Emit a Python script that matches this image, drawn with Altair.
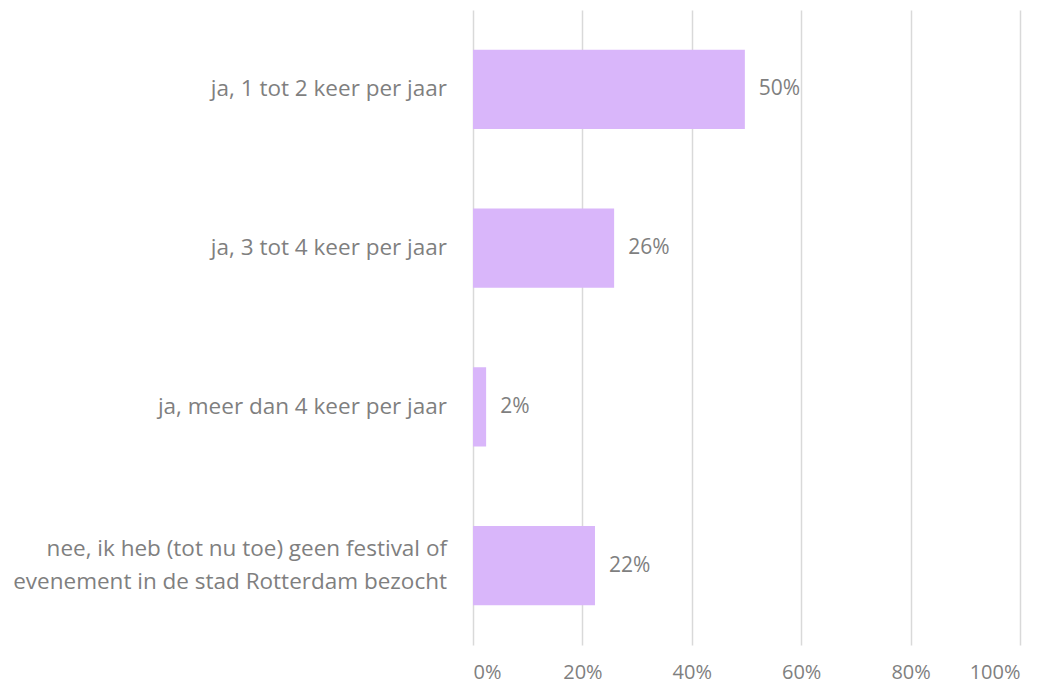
import altair as alt
import pandas as pd

categories = [
    "ja, 1 tot 2 keer per jaar",
    "ja, 3 tot 4 keer per jaar",
    "ja, meer dan 4 keer per jaar",
    "nee, ik heb (tot nu toe) geen festival of|evenement in de stad Rotterdam bezocht",
]
values = [0.497, 0.258, 0.024, 0.223]

df = pd.DataFrame({"cat": categories, "val": values})

FONT = "Open Sans"
GREY = "#7f7f7f"
LINE_H = 33

y = alt.Y("cat:N", sort=categories, title=None,
          scale=alt.Scale(paddingInner=0.5, paddingOuter=0.25),
          axis=None)
x = alt.X("val:Q", title=None,
          scale=alt.Scale(domain=[0, 1]),
          axis=alt.Axis(format=".0%", values=[0, 0.2, 0.4, 0.6, 0.8, 1.0],
                        labelFont=FONT, labelFontSize=20, labelColor=GREY,
                        labelPadding=17, ticks=False, domain=False,
                        gridColor="#d9d9d9", gridWidth=1.5))

bars = alt.Chart(df).mark_bar(color="#d9b6fa").encode(x=x, y=y)
text = alt.Chart(df).mark_text(align="left", dx=14, font=FONT, fontSize=21,
                               color=GREY).encode(
    x="val:Q", y=alt.Y("cat:N", sort=categories),
    text=alt.Text("val:Q", format=".0%"))

cat_style = dict(align="right", baseline="middle", font=FONT, fontSize=22.5,
                 color=GREY, lineBreak="|", lineHeight=LINE_H)
cats_single = alt.Chart(df).transform_filter(
    "indexof(datum.cat, '|') < 0"
).mark_text(**cat_style).encode(
    x=alt.value(-26), y=alt.Y("cat:N", sort=categories), text="cat:N")
cats_multi = alt.Chart(df).transform_filter(
    "indexof(datum.cat, '|') >= 0"
).mark_text(dy=-LINE_H / 2, **cat_style).encode(
    x=alt.value(-26), y=alt.Y("cat:N", sort=categories), text="cat:N")

chart = (bars + text + cats_single + cats_multi).properties(
    width=547, height=635,
    autosize=alt.AutoSizeParams(type="none"),
    padding={"left": 465, "top": 2, "right": 20, "bottom": 40},
).configure_view(stroke=None)

chart.save("out.html", embed_options={"renderer": "svg", "actions": False})
